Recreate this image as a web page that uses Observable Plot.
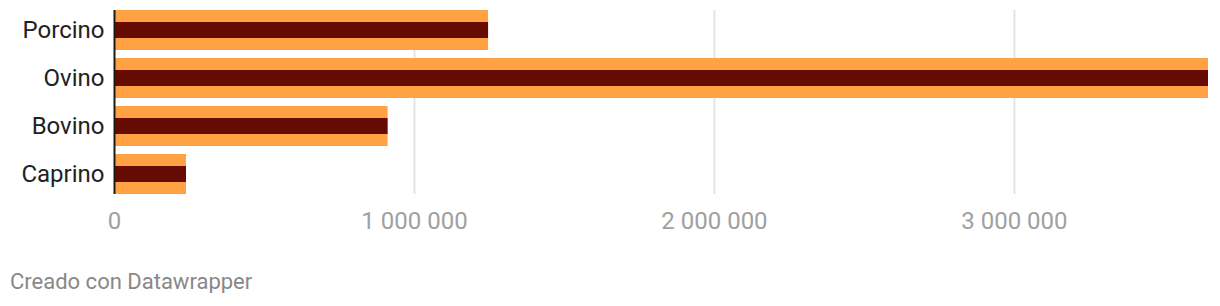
<!DOCTYPE html>
<html>
<head>
<meta charset="utf-8">
<script src="https://cdn.jsdelivr.net/npm/d3@7"></script>
<script src="https://cdn.jsdelivr.net/npm/@observablehq/plot@0.6"></script>
<style>
  html, body { margin: 0; padding: 0; background: #fff; }
  #chart svg { display: block; }
  .caption { font-family: Roboto, sans-serif; font-size: 22px; line-height: 1; color: #888; padding-left: 10px; margin-top: 31px; }
</style>
</head>
<body>
<div id="chart"></div>
<div class="caption">Creado con Datawrapper</div>
<script>
const categories = ["Porcino", "Ovino", "Bovino", "Caprino"];
const seriesA = [1247000, 3647000, 912000, 240000];
const seriesB = [1247000, 3647000, 912000, 240000];
const xTicks = [0, 1000000, 2000000, 3000000];

const dataA = categories.map((c, i) => ({category: c, value: seriesA[i]}));
const dataB = categories.map((c, i) => ({category: c, value: seriesB[i]}));
const fmt = v => d3.format(",")(v).replace(/,/g, " ");

const chart = Plot.plot({
  width: 1220,
  height: 240,
  marginTop: 10,
  marginBottom: 46,
  marginLeft: 114,
  marginRight: 12,
  style: {fontFamily: "Roboto, sans-serif", fontSize: "24px", background: "#fff"},
  x: {domain: [0, 3647000], ticks: xTicks, tickFormat: fmt, label: null},
  y: {domain: categories, paddingInner: 1/6, paddingOuter: 0, label: null},
  marks: [
    Plot.ruleX(xTicks.slice(1), {stroke: "#e4e4e4", strokeWidth: 2}),
    Plot.barX(dataA, {y: "category", x: "value", fill: "#ffa244"}),
    Plot.barX(dataB, {y: "category", x: "value", fill: "#660b02", insetTop: 12, insetBottom: 12}),
    Plot.ruleX([0], {stroke: "#1a1a1a", strokeWidth: 2}),
    Plot.axisX({ticks: xTicks, tickFormat: fmt, tickSize: 0, tickPadding: 17, fill: "#a0a0a0", fontSize: 24, label: null}),
    Plot.axisY({tickSize: 0, tickPadding: 10, fill: "#222", fontSize: 24, label: null})
  ]
});
document.getElementById("chart").appendChild(chart);
</script>
</body>
</html>
